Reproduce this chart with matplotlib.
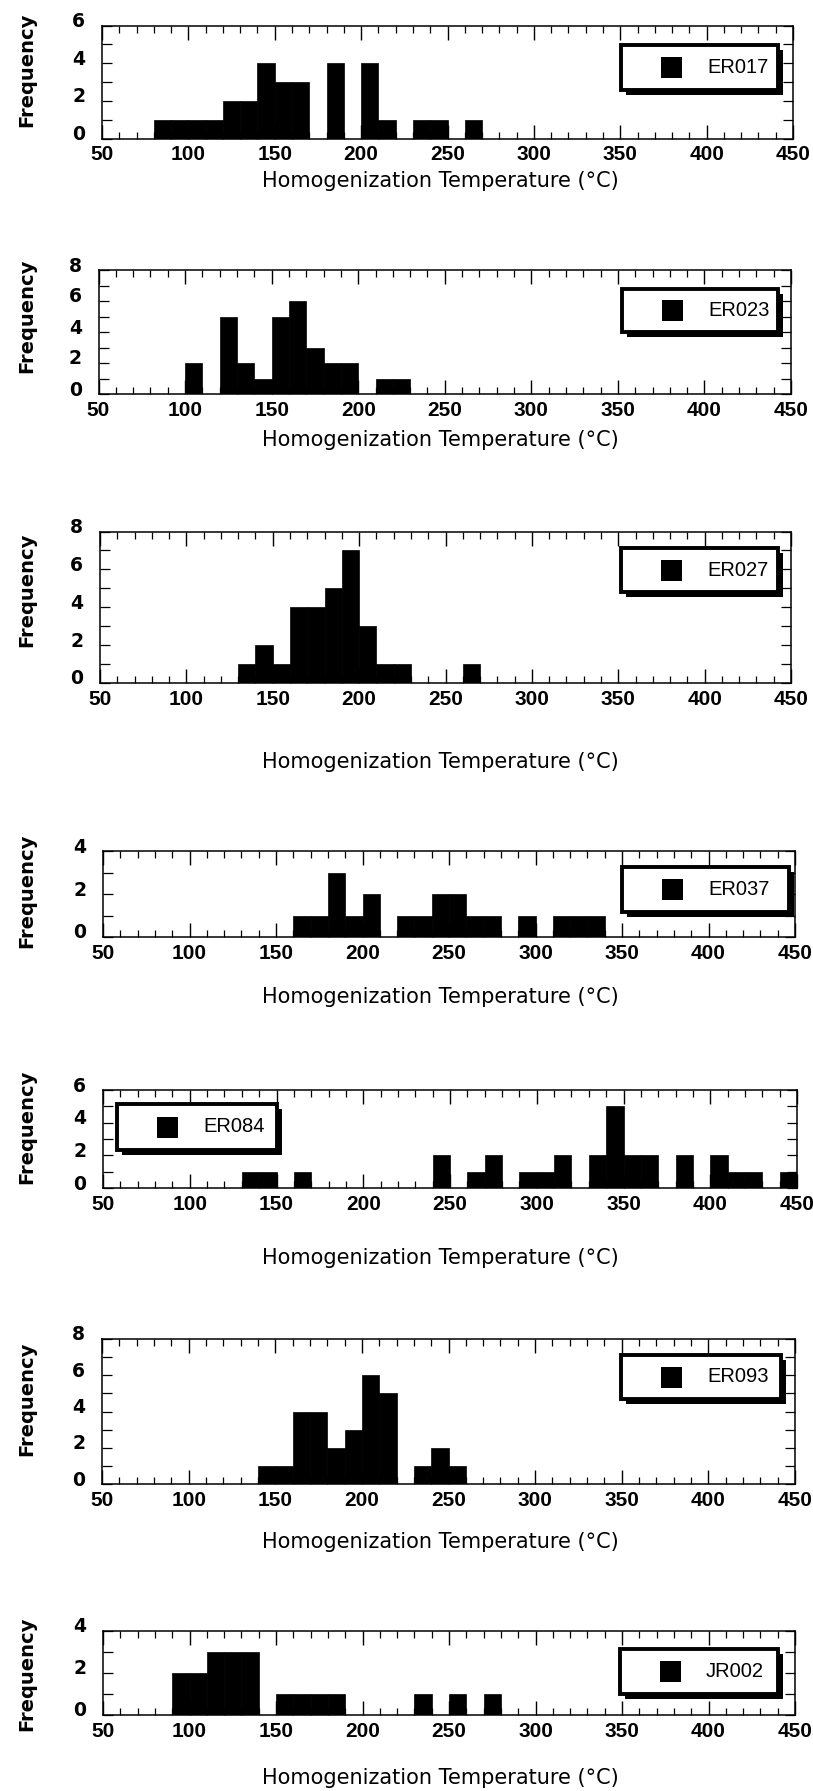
import numpy as np
import matplotlib
matplotlib.use("Agg")
import matplotlib.pyplot as plt
from matplotlib.patches import Rectangle
import matplotlib.transforms as mtransforms

# ---------------- data ----------------
bin_starts = list(range(50, 450, 10))   # 40 bins of width 10 °C
bin_width = 10

samples = ["ER017", "ER023", "ER027", "ER037", "ER084", "ER093", "JR002"]

er017 = [0,0,0,1,1,1,1,2,2,4, 3,3,0,4,0,4,1,0,1,1, 0,1,0,0,0,0,0,0,0,0, 0,0,0,0,0,0,0,0,0,0]
er023 = [0,0,0,0,0,2,0,5,2,1, 5,6,3,2,2,0,1,1,0,0, 0,0,0,0,0,0,0,0,0,0, 0,0,0,0,0,0,0,0,0,0]
er027 = [0,0,0,0,0,0,0,0,1,2, 1,4,4,5,7,3,1,1,0,0, 0,1,0,0,0,0,0,0,0,0, 0,0,0,0,0,0,0,0,0,0]
er037 = [0,0,0,0,0,0,0,0,0,0, 0,1,1,3,1,2,0,1,1,2, 2,1,1,0,1,0,1,1,1,0, 0,0,0,0,0,0,0,0,0,0]
er084 = [0,0,0,0,0,0,0,0,1,1, 0,1,0,0,0,0,0,0,0,2, 0,1,2,0,1,1,2,0,2,5, 2,2,0,2,0,2,1,1,0,1]
er093 = [0,0,0,0,0,0,0,0,0,1, 1,4,4,2,3,6,5,0,1,2, 1,0,0,0,0,0,0,0,0,0, 0,0,0,0,0,0,0,0,0,0]
jr002 = [0,0,0,0,2,2,3,3,3,0, 1,1,1,1,0,0,0,0,1,0, 1,0,1,0,0,0,0,0,0,0, 0,0,0,0,0,0,0,0,0,0]
counts = [er017, er023, er027, er037, er084, er093, jr002]

y_max = [6, 8, 8, 4, 6, 8, 4]
x_ticks = [50, 100, 150, 200, 250, 300, 350, 400, 450]
x_label = "Homogenization Temperature (°C)"
y_label = "Frequency"

# ---------------- layout (pixels in 813 x 1791 canvas) ----------------
W, H = 813, 1791
axes_px = [  # left, top, right, bottom
    (102, 25.5, 793, 138.5),
    (98.5, 270, 791, 394),
    (100, 531.5, 791, 683),
    (103, 851.5, 795, 937),
    (103, 1090, 797, 1188),
    (102, 1339, 795, 1484),
    (103, 1630.5, 795, 1715),
]
xlabel_top_px = [171, 430, 752, 987, 1248, 1532, 1768]
ylabel_center_px = [70, 316, 590, 891, 1127, 1399, 1674]
legend_px = [  # x0, y0, x1, y1 (outer incl. shadow)
    (621, 45, 783, 95),
    (622, 289, 783, 337),
    (621, 548, 783, 597),
    (622, 867, 794, 917),
    (117, 1104, 282, 1155),
    (621, 1355, 786, 1404),
    (620, 1649, 783, 1699),
]

def frect(x0, y0, x1, y1):
    return [x0 / W, 1 - y1 / H, (x1 - x0) / W, (y1 - y0) / H]

fig = plt.figure(figsize=(W / 100, H / 100), dpi=100)
fig.patch.set_facecolor("white")

tick_font = ["Liberation Sans", "DejaVu Sans"]
ytick_font = ["DejaVu Sans"]

for i, name in enumerate(samples):
    l, t, r, b = axes_px[i]
    ax = fig.add_axes(frect(l, t, r, b))
    ax.bar(bin_starts, counts[i], width=bin_width, align="edge",
           color="black", edgecolor="black", linewidth=0.5)
    ax.set_xlim(50, 450)
    ax.set_ylim(0, y_max[i])
    ax.set_xticks(x_ticks)
    ax.set_xticks(np.arange(50, 451, 10), minor=True)
    ax.set_yticks(np.arange(0, y_max[i] + 1, 2))
    ax.set_yticks(np.arange(0, y_max[i] + 1, 1), minor=True)
    for sp in ax.spines.values():
        sp.set_linewidth(1.1)
        sp.set_color("black")
    ax.tick_params(axis="x", which="major", direction="in", length=10, width=1,
                   top=True, bottom=True, pad=5)
    ax.tick_params(axis="x", which="minor", direction="in", length=5, width=0.9,
                   top=True, bottom=True)
    ax.tick_params(axis="y", which="both", direction="in", length=7, width=0.9,
                   left=True, right=True, pad=12)
    for lab in ax.get_xticklabels():
        lab.set_fontfamily(tick_font)
        lab.set_fontsize(15)
        lab.set_fontweight("bold")
    offset = mtransforms.ScaledTranslation(0, 6 / 100, fig.dpi_scale_trans)
    for lab in ax.get_yticklabels():
        lab.set_fontfamily(ytick_font)
        lab.set_fontsize(13.5)
        lab.set_fontweight("bold")
        lab.set_transform(lab.get_transform() + offset)

    hpx = b - t
    wpx = r - l
    ax.set_xlabel(x_label, fontsize=15, family="DejaVu Sans")
    ax.xaxis.set_label_coords((440 - l) / wpx, -(xlabel_top_px[i] - b) / hpx)
    ax.set_ylabel(y_label, fontsize=14, fontweight="bold", family="DejaVu Sans")
    ax.yaxis.set_label_coords((36 - l) / wpx, (b - ylabel_center_px[i]) / hpx)
    ax.yaxis.label.set_va("bottom")

    # legend box with drop shadow
    x0, y0, x1, y1 = legend_px[i]
    sh = 5
    fig.add_artist(Rectangle((frect(x0 + sh, y0 + sh, x1, y1)[0], frect(x0 + sh, y0 + sh, x1, y1)[1]),
                             (x1 - x0 - sh) / W, (y1 - y0 - sh) / H,
                             transform=fig.transFigure, facecolor="black", edgecolor="black", lw=0))
    fig.add_artist(Rectangle((frect(x0, y0, x1 - sh, y1 - sh)[0], frect(x0, y0, x1 - sh, y1 - sh)[1]),
                             (x1 - x0 - sh) / W, (y1 - y0 - sh) / H,
                             transform=fig.transFigure, facecolor="white", edgecolor="black", lw=2.8))
    cy = (y0 + y1 - sh) / 2
    mx = x0 + 50
    ms = 21
    fig.add_artist(Rectangle((frect(mx - ms / 2, cy - ms / 2, mx + ms / 2, cy + ms / 2)[0],
                              frect(mx - ms / 2, cy - ms / 2, mx + ms / 2, cy + ms / 2)[1]),
                             ms / W, ms / H, transform=fig.transFigure,
                             facecolor="black", edgecolor="black", lw=0))
    fig.text((x0 + 86) / W, 1 - cy / H, name, fontsize=14.5, family=tick_font,
             ha="left", va="center")

fig.savefig("out.png", dpi=100, facecolor="white")
